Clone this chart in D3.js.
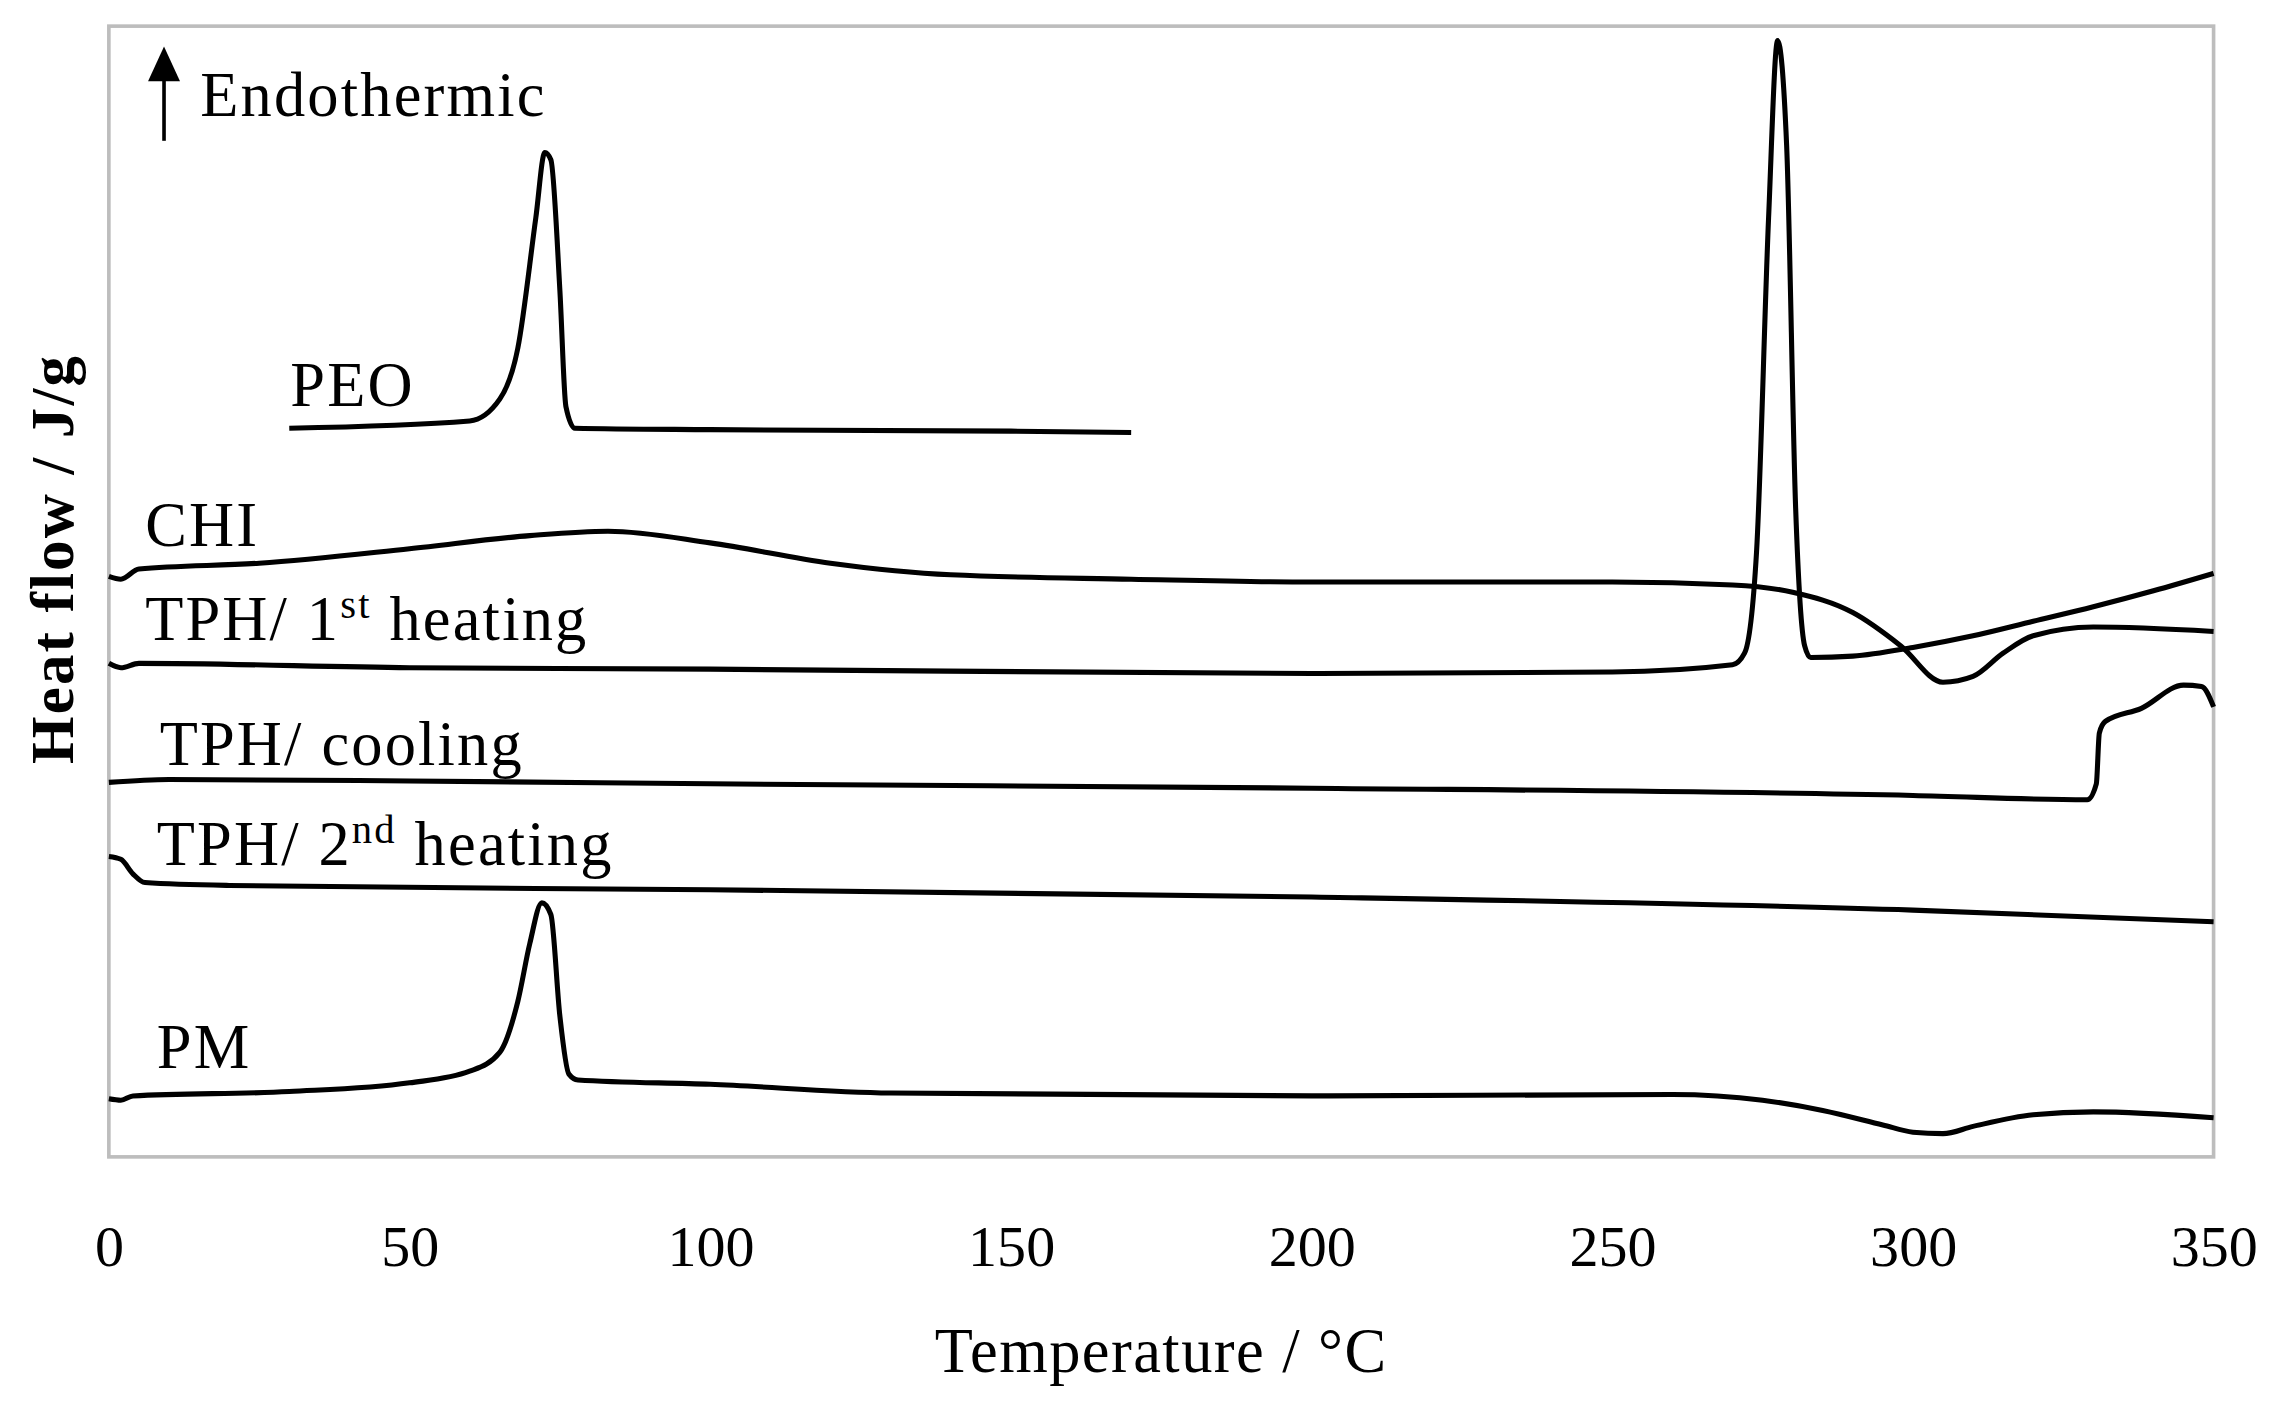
<!DOCTYPE html>
<html>
<head>
<meta charset="utf-8">
<script src="https://cdn.jsdelivr.net/npm/d3@7"></script>
<style>
  body { margin: 0; background: #fff; }
  text { font-family: "Liberation Serif", "DejaVu Serif", serif; fill: #000; }
</style>
</head>
<body>
<div id="chart"></div>
<script>
// heat flow in arbitrary units (offset curves), temperature in °C
const xTicks = [0, 50, 100, 150, 200, 250, 300, 350];

const peoT = [30, 60, 65, 68, 71, 72.5, 73.5, 75, 76, 77.5, 100, 150, 170];
const peoH = [502, 507, 522, 557, 647, 692, 687, 597, 517, 502, 501, 500, 499];

const chiT = [0, 2, 5, 25, 50, 70, 83, 100, 120, 140, 170, 200, 250, 270, 280, 290, 298, 305, 310, 315, 320, 330, 350];
const chiH = [400, 398, 405, 409, 419, 428, 431, 423, 409, 401, 398, 396, 396, 394, 389, 375, 352, 327, 331, 347, 359, 365, 362];

const tph1T = [0, 2, 5, 50, 100, 200, 250, 270, 272, 274, 276, 277.5, 279, 280.5, 282, 283, 290, 300, 310, 320, 330, 340, 350];
const tph1H = [340, 337, 340, 337, 336, 333, 334, 339, 347, 417, 647, 769, 697, 447, 352, 344, 345, 351, 359, 369, 379, 390, 402];

const coolT = [0, 10, 50, 100, 200, 300, 329, 330.5, 331, 332, 338, 345, 348, 350];
const coolH = [258, 260, 259, 257, 254, 249, 246, 257, 292, 300, 309, 325, 324, 310];

const tph2T = [0, 2, 4, 6, 20, 100, 200, 300, 350];
const tph2H = [207, 205, 195, 189, 187, 184, 179, 170, 162];

const pmT = [0, 2, 4, 30, 50, 60, 65, 68, 70, 72, 73.5, 75, 76.5, 78, 100, 130, 200, 260, 275, 285, 295, 300, 305, 310, 320, 330, 350];
const pmH = [40, 39, 42, 45, 51, 59, 72, 107, 147, 175, 167, 97, 57, 53, 50, 44, 42, 43, 39, 32, 22, 17, 16, 21, 29, 31, 27];

const W = 1568, H = 970;
const m = { left: 75, right: 1525, top: 18, bottom: 797 };

const svg = d3.select("#chart").append("svg")
    .attr("width", 2276).attr("height", 1408)
    .attr("viewBox", `0 0 ${W} ${H}`);

const x = d3.scaleLinear().domain([0, 350]).range([m.left, m.right]);
const y = d3.scaleLinear().domain([0, 779]).range([m.bottom, m.top]);

svg.append("rect")
    .attr("x", m.left).attr("y", m.top)
    .attr("width", m.right - m.left).attr("height", m.bottom - m.top)
    .attr("fill", "none").attr("stroke", "#bdbdbd").attr("stroke-width", 2.5);

const xAxis = svg.append("g")
    .attr("transform", `translate(0,${m.bottom})`)
    .call(d3.axisBottom(x).tickValues(xTicks).tickSize(0).tickPadding(47));
xAxis.select(".domain").remove();
xAxis.selectAll("text").style("font-size", "40px")
    .style("font-family", "Liberation Serif, serif");

const line = d3.line().x(d => x(d[0])).y(d => y(d[1])).curve(d3.curveMonotoneX);
const series = [[peoT, peoH], [chiT, chiH], [tph1T, tph1H], [coolT, coolH], [tph2T, tph2H], [pmT, pmH]];
series.forEach(([t, h]) => {
  svg.append("path")
      .datum(t.map((v, i) => [v, h[i]]))
      .attr("d", line)
      .attr("fill", "none").attr("stroke", "#000").attr("stroke-width", 3.5)
      .attr("stroke-linejoin", "round");
});

function label(xp, yp, main, sup, rest) {
  const t = svg.append("text").attr("x", xp).attr("y", yp)
      .style("font-size", "43px").style("letter-spacing", "1.5px");
  t.append("tspan").text(main);
  if (sup) {
    t.append("tspan").attr("dy", -15).style("font-size", "28px").text(sup);
    t.append("tspan").attr("dy", 15).text(rest);
  }
}
label(200, 280, "PEO");
label(100, 376, "CHI");
label(100, 441, "TPH/ 1", "st", " heating");
label(110, 527, "TPH/ cooling");
label(108, 596, "TPH/ 2", "nd", " heating");
label(108, 736, "PM");

// endothermic arrow
svg.append("line").attr("x1", 113).attr("x2", 113).attr("y1", 97).attr("y2", 52)
    .attr("stroke", "#000").attr("stroke-width", 2.5);
svg.append("path").attr("d", "M102,56 L113,32 L124,56 Z").attr("fill", "#000");
svg.append("text").attr("x", 138).attr("y", 80)
    .style("font-size", "43px").style("letter-spacing", "1.5px").text("Endothermic");

svg.append("text")
    .attr("transform", "translate(50,385) rotate(-90)")
    .attr("text-anchor", "middle")
    .style("font-size", "42px").style("font-weight", "bold").style("letter-spacing", "1.5px")
    .text("Heat flow / J/g");

svg.append("text")
    .attr("x", (m.left + m.right) / 2).attr("y", 945)
    .attr("text-anchor", "middle").style("font-size", "43px").style("letter-spacing", "1px")
    .text("Temperature / °C");
</script>
</body>
</html>
